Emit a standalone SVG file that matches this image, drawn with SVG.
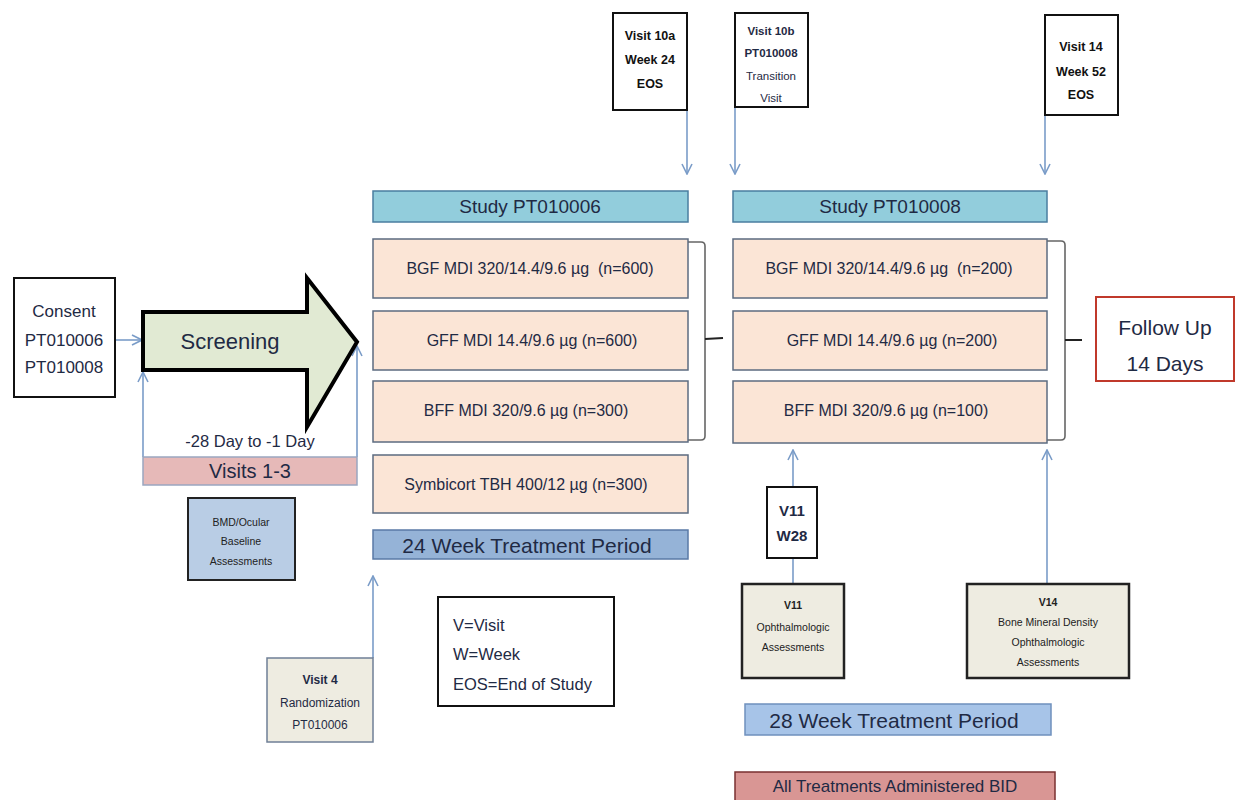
<svg xmlns="http://www.w3.org/2000/svg" width="1236" height="800" viewBox="0 0 1236 800">
  <defs>
    <marker id="open" viewBox="0 0 12 12" refX="11" refY="6" markerWidth="12" markerHeight="12" markerUnits="userSpaceOnUse" orient="auto">
      <path d="M1,1 L11,6 L1,11" fill="none" stroke="#7a9cc8" stroke-width="1.6"/>
    </marker>
    <style>
      text { font-family: "Liberation Sans", Arial, sans-serif; fill: #1f2a44; text-anchor: middle; dominant-baseline: central; white-space: pre; }
      .conn { stroke: #7a9cc8; stroke-width: 1.6; fill: none; }
      .brace { stroke: #666; stroke-width: 1.6; fill: none; }
      .tick { stroke: #222; stroke-width: 2; }
      .study { fill: #92cddc; stroke: #4a7ea0; stroke-width: 1.5; }
      .arm { fill: #fbe5d6; stroke: #5c6b80; stroke-width: 1.5; }
      .arm-t { font-size: 16px; }
      .visit { fill: #ffffff; stroke: #111; stroke-width: 2; }
      .visit-t { font-size: 12.5px; font-weight: bold; fill: #111; }
      .assess { fill: #eeece1; stroke: #222; stroke-width: 2.5; }
      .small { font-size: 10.5px; fill: #222; }
      .bar-t { font-size: 21px; }
    </style>
  </defs>

  <!-- connectors -->
  <g id="connectors">
    <line class="conn" x1="115" y1="340" x2="142" y2="340" marker-end="url(#open)"/>
    <line class="conn" x1="143" y1="457" x2="143" y2="372" marker-end="url(#open)"/>
    <line class="conn" x1="357" y1="457" x2="357" y2="346" marker-end="url(#open)"/>
    <line class="conn" x1="687" y1="110" x2="687" y2="174" marker-end="url(#open)"/>
    <line class="conn" x1="735" y1="107" x2="735" y2="174" marker-end="url(#open)"/>
    <line class="conn" x1="1045" y1="115" x2="1045" y2="174" marker-end="url(#open)"/>
    <line class="conn" x1="373" y1="658" x2="373" y2="576" marker-end="url(#open)"/>
    <line class="conn" x1="793" y1="487" x2="793" y2="450" marker-end="url(#open)"/>
    <line class="conn" x1="793" y1="584" x2="793" y2="558"/>
    <line class="conn" x1="1047" y1="584" x2="1047" y2="450" marker-end="url(#open)"/>
    <!-- brackets grouping the arms -->
    <path class="brace" d="M688,242 L701,242 Q705,242 705,246 L705,436 Q705,440 701,440 L688,440"/>
    <line class="tick" x1="705" y1="339" x2="723" y2="338"/>
    <path class="brace" d="M1047,241 L1061,241 Q1065,241 1065,245 L1065,436 Q1065,440 1061,440 L1047,440"/>
    <line class="tick" x1="1065" y1="340" x2="1082" y2="340"/>
  </g>

  <!-- consent -->
  <g id="consent">
    <rect x="14" y="278" width="101" height="119" fill="#fff" stroke="#111" stroke-width="2"/>
    <text x="64" y="311" font-size="17" fill="#2a2440">Consent</text>
    <text x="64" y="340" font-size="17" fill="#3a2234">PT010006</text>
    <text x="64" y="367" font-size="17" fill="#3a2234">PT010008</text>
  </g>

  <!-- screening arrow -->
  <g id="screening">
    <path d="M143,312 L307,312 L307,278 L357,342 L307,427 L307,370 L143,370 Z" fill="#e1ead3" stroke="#000" stroke-width="4" stroke-linejoin="miter"/>
    <text x="230" y="341" font-size="22" fill="#2a3030">Screening</text>
  </g>

  <g id="screening-window">
    <text x="250" y="441" font-size="16.5" fill="#1a1a2a">-28 Day to -1 Day</text>
  </g>

  <g id="visits-1-3">
    <rect x="143" y="457" width="214" height="28" fill="#e6b9b8" stroke="#9aa6c0" stroke-width="1.5"/>
    <text x="250" y="471" font-size="20">Visits 1-3</text>
  </g>

  <g id="bmd-baseline">
    <rect x="188" y="498" width="107" height="82" fill="#b9cde5" stroke="#222" stroke-width="2"/>
    <text class="small" x="241" y="522">BMD/Ocular</text>
    <text class="small" x="241" y="541">Baseline</text>
    <text class="small" x="241" y="561">Assessments</text>
  </g>

  <g id="visit-4">
    <rect x="267" y="658" width="106" height="84" fill="#eeece1" stroke="#6f7f96" stroke-width="1.5"/>
    <text x="320" y="680" font-size="12" font-weight="bold" fill="#222">Visit 4</text>
    <text x="320" y="703" font-size="12" fill="#222">Randomization</text>
    <text x="320" y="725" font-size="12" fill="#222">PT010006</text>
  </g>

  <g id="legend">
    <rect x="438" y="597" width="176" height="109" fill="#fff" stroke="#111" stroke-width="2"/>
    <text x="453" y="625" font-size="16.5" style="text-anchor:start">V=Visit</text>
    <text x="453" y="654" font-size="16.5" style="text-anchor:start">W=Week</text>
    <text x="453" y="684" font-size="16.5" style="text-anchor:start">EOS=End of Study</text>
  </g>

  <!-- study PT010006 -->
  <g id="study-pt010006">
    <rect class="study" x="373" y="191" width="315" height="31"/>
    <text x="530" y="206" font-size="19">Study PT010006</text>
  </g>
  <g id="arm-bgf-600">
    <rect class="arm" x="373" y="239" width="315" height="59"/>
    <text class="arm-t" x="530" y="268" xml:space="preserve">BGF MDI 320/14.4/9.6 µg  (n=600)</text>
  </g>
  <g id="arm-gff-600">
    <rect class="arm" x="373" y="311" width="315" height="59"/>
    <text class="arm-t" x="532" y="340">GFF MDI 14.4/9.6 µg (n=600)</text>
  </g>
  <g id="arm-bff-300">
    <rect class="arm" x="373" y="381" width="315" height="61"/>
    <text class="arm-t" x="526" y="410">BFF MDI 320/9.6 µg (n=300)</text>
  </g>
  <g id="arm-symbicort-300">
    <rect class="arm" x="373" y="455" width="315" height="58"/>
    <text class="arm-t" x="526" y="484">Symbicort TBH 400/12 µg (n=300)</text>
  </g>
  <g id="period-24">
    <rect x="373" y="530" width="315" height="29" fill="#95b3d7" stroke="#5a7aa6" stroke-width="1.5"/>
    <text class="bar-t" x="527" y="545">24 Week Treatment Period</text>
  </g>

  <!-- study PT010008 -->
  <g id="study-pt010008">
    <rect class="study" x="733" y="191" width="314" height="31"/>
    <text x="890" y="206" font-size="19">Study PT010008</text>
  </g>
  <g id="arm-bgf-200">
    <rect class="arm" x="733" y="239" width="314" height="59"/>
    <text class="arm-t" x="889" y="268" xml:space="preserve">BGF MDI 320/14.4/9.6 µg  (n=200)</text>
  </g>
  <g id="arm-gff-200">
    <rect class="arm" x="733" y="311" width="314" height="59"/>
    <text class="arm-t" x="892" y="340">GFF MDI 14.4/9.6 µg (n=200)</text>
  </g>
  <g id="arm-bff-100">
    <rect class="arm" x="733" y="381" width="314" height="62"/>
    <text class="arm-t" x="886" y="410">BFF MDI 320/9.6 µg (n=100)</text>
  </g>

  <g id="follow-up">
    <rect x="1096" y="297" width="138" height="84" fill="#fff" stroke="#c0392b" stroke-width="2"/>
    <text x="1165" y="327" font-size="21">Follow Up</text>
    <text x="1165" y="363" font-size="21">14 Days</text>
  </g>

  <!-- visit markers on top -->
  <g id="visit-10a">
    <rect class="visit" x="613" y="13" width="74" height="97"/>
    <text class="visit-t" x="650" y="36">Visit 10a</text>
    <text class="visit-t" x="650" y="60">Week 24</text>
    <text class="visit-t" x="650" y="84">EOS</text>
  </g>
  <g id="visit-10b">
    <rect class="visit" x="735" y="13" width="73" height="94"/>
    <text x="771" y="31" font-size="11.5" font-weight="bold" fill="#111">Visit 10b</text>
    <text x="771" y="53" font-size="11.5" font-weight="bold" fill="#111">PT010008</text>
    <text x="771" y="76" font-size="11.5" fill="#111">Transition</text>
    <text x="771" y="98" font-size="11.5" fill="#111">Visit</text>
  </g>
  <g id="visit-14">
    <rect class="visit" x="1045" y="15" width="73" height="100"/>
    <text class="visit-t" x="1081" y="47">Visit 14</text>
    <text class="visit-t" x="1081" y="72">Week 52</text>
    <text class="visit-t" x="1081" y="95">EOS</text>
  </g>

  <g id="v11-w28">
    <rect class="visit" x="767" y="487" width="50" height="71"/>
    <text x="792" y="510" font-size="15" font-weight="bold" fill="#111">V11</text>
    <text x="792" y="535" font-size="15" font-weight="bold" fill="#111">W28</text>
  </g>

  <g id="v11-assessments">
    <rect class="assess" x="742" y="584" width="102" height="94"/>
    <text class="small" x="793" y="605" font-weight="bold">V11</text>
    <text class="small" x="793" y="627">Ophthalmologic</text>
    <text class="small" x="793" y="647">Assessments</text>
  </g>

  <g id="v14-assessments">
    <rect class="assess" x="967" y="584" width="162" height="94"/>
    <text class="small" x="1048" y="602" font-weight="bold">V14</text>
    <text class="small" x="1048" y="622">Bone Mineral Density</text>
    <text class="small" x="1048" y="642">Ophthalmologic</text>
    <text class="small" x="1048" y="662">Assessments</text>
  </g>

  <g id="period-28">
    <rect x="745" y="704" width="306" height="31" fill="#a7c4e8" stroke="#6f90bd" stroke-width="1.5"/>
    <text class="bar-t" x="894" y="720">28 Week Treatment Period</text>
  </g>

  <g id="bid-note">
    <rect x="735" y="772" width="320" height="30" fill="#d99694" stroke="#7a3030" stroke-width="1.5"/>
    <text x="895" y="786" font-size="17">All Treatments Administered BID</text>
  </g>
</svg>
